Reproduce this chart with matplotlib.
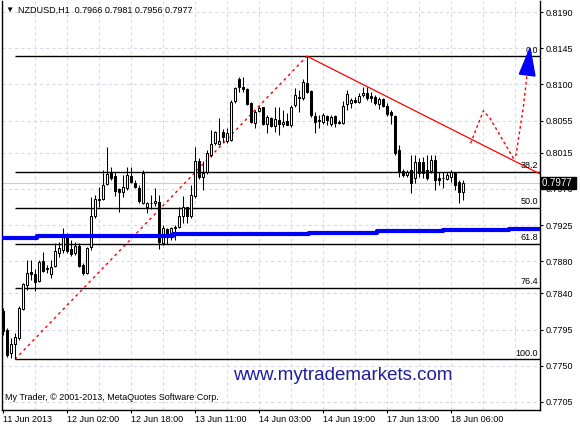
import matplotlib
matplotlib.use("Agg")
import matplotlib.pyplot as plt
import matplotlib.transforms as mtransforms
from matplotlib.patches import Polygon

plt.rcParams['font.family'] = ['Liberation Sans', 'DejaVu Sans']

# NZDUSD H1 candles, 11-18 Jun 2013
opens = [.7818, .7795, .7766, .7777, .7785, .7821, .7850, .7867, .7864, .7855,
         .7880, .7872, .7864, .7874, .7890, .7894, .7910, .7895, .7890, .7899,
         .7875, .7865, .7898, .7936, .7957, .7957, .7976, .7990, .7986, .7970,
         .7966, .7971, .7986, .7977, .7971, .7952, .7947, .7952, .7952, .7954,
         .7903, .7920, .7915, .7921, .7923, .7936, .7947, .7936, .7961, .8005,
         .7985, .7991, .8012, .8027, .8026, .8041, .8030, .8031, .8079, .8107,
         .8097, .8094, .8077, .8052, .8067, .8072, .8051, .8058, .8048, .8056,
         .8051, .8054, .8049, .8074, .8084, .8083, .8102, .8092, .8061, .8056,
         .8053, .8061, .8051, .8061, .8053, .8052, .8076, .8077, .8081, .8078,
         .8087, .8089, .8085, .8084, .8076, .8082, .8073, .8066, .8061, .8018,
         .7992, .7987, .7993, .7984, .8003, .8003, .7993, .7992, .8006, .7984,
         .7984, .7982, .7985, .7990, .7979, .7966]
highs = [.7822, .7797, .7785, .7791, .7824, .7853, .7882, .7882, .7870, .7882,
         .7892, .7875, .7882, .7903, .7904, .7921, .7915, .7906, .7904, .7903,
         .7878, .7898, .7960, .7962, .7972, .7993, .8022, .7997, .7991, .7971,
         .7987, .7997, .7997, .7981, .7975, .7993, .7954, .7962, .7971, .7962,
         .7925, .7921, .7923, .7925, .7947, .7961, .7947, .7975, .8022, .8008,
         .8005, .8018, .8043, .8042, .8058, .8044, .8046, .8081, .8097, .8109,
         .8109, .8095, .8078, .8068, .8073, .8072, .8062, .8059, .8072, .8072,
         .8068, .8064, .8074, .8095, .8093, .8107, .8135, .8093, .8066, .8062,
         .8064, .8062, .8062, .8062, .8056, .8079, .8093, .8083, .8084, .8089,
         .8097, .8097, .8090, .8087, .8084, .8083, .8077, .8068, .8062, .8025,
         .7995, .7993, .8012, .8012, .8008, .8010, .8012, .8012, .8012, .7991,
         .7991, .7991, .7993, .7990, .7981, .7981]
lows = [.7788, .7761, .7760, .7758, .7782, .7819, .7844, .7857, .7843, .7854,
        .7867, .7865, .7859, .7873, .7885, .7890, .7890, .7887, .7888, .7873,
        .7863, .7864, .7894, .7934, .7947, .7956, .7975, .7981, .7961, .7941,
        .7960, .7969, .7977, .7971, .7952, .7951, .7940, .7945, .7949, .7895,
        .7900, .7901, .7906, .7906, .7921, .7928, .7928, .7934, .7959, .7982,
        .7969, .7989, .8010, .8025, .8025, .8028, .8027, .8030, .8077, .8090,
        .8090, .8074, .8052, .8046, .8066, .8049, .8039, .8047, .8041, .8037,
        .8047, .8049, .8047, .8072, .8066, .8081, .8089, .8059, .8039, .8046,
        .8051, .8049, .8048, .8047, .8051, .8051, .8068, .8071, .8077, .8077,
        .8084, .8081, .8078, .8074, .8069, .8072, .8061, .8051, .8012, .7985,
        .7985, .7985, .7965, .7977, .7985, .7984, .7981, .7990, .7969, .7975,
        .7971, .7981, .7979, .7969, .7952, .7956]
closes = [.7793, .7763, .7777, .7786, .7822, .7852, .7865, .7864, .7854, .7879,
          .7868, .7870, .7873, .7893, .7897, .7910, .7893, .7889, .7899, .7874,
          .7865, .7897, .7936, .7957, .7956, .7975, .7989, .7984, .7967, .7966,
          .7972, .7987, .7979, .7972, .7955, .7990, .7952, .7953, .7955, .7904,
          .7921, .7913, .7921, .7922, .7936, .7947, .7936, .7962, .8005, .7985,
          .7990, .8015, .8026, .8041, .8030, .8034, .8039, .8078, .8095, .8097,
          .8094, .8076, .8053, .8066, .8071, .8051, .8059, .8048, .8057, .8051,
          .8053, .8049, .8072, .8087, .8083, .8103, .8090, .8062, .8053, .8054,
          .8062, .8056, .8059, .8052, .8052, .8073, .8088, .8081, .8078, .8085,
          .8089, .8083, .8083, .8077, .8082, .8073, .8063, .8062, .8015, .7991,
          .7987, .7991, .7977, .8003, .7990, .7990, .7984, .8006, .7981, .7981,
          .7983, .7987, .7991, .7975, .7966, .7977]

time_ticks = [0, 16, 32, 48, 64, 80, 96, 112]
time_labels = ['11 Jun 2013', '12 Jun 02:00', '12 Jun 18:00', '13 Jun 11:00',
               '14 Jun 03:00', '14 Jun 19:00', '17 Jun 13:00', '18 Jun 06:00']
price_ticks = [0.8190, 0.8145, 0.8100, 0.8055, 0.8015, 0.7970,
               0.7925, 0.7880, 0.7840, 0.7795, 0.7750, 0.7705]

# fibo from the low of bar 3 to the high of bar 76
fib_low_bar, fib_high_bar = 3, 76
fib_ratios = [0.0, 38.2, 50.0, 61.8, 76.4, 100.0]

# slow moving average (blue), stepwise
ma_bars = [-1, 8.5, 25.5, 42.5, 59.5, 76.5, 93.5, 110, 126.5, 136]
ma_vals = [0.79095, 0.79108, 0.79120, 0.79133, 0.79145, 0.79157, 0.79171, 0.79184, 0.79196, 0.79196]

# trend line from the top
trend_bars = [76, 134.3]
trend_vals = [0.8135, 0.79885]

# projected path + arrow
proj_bars = [116.9, 120.1, 121.75, 127.6, 128.25, 130.1, 130.9, 131.0]
proj_vals = [0.80267, 0.80672, 0.80578, 0.80080, 0.80121, 0.80722, 0.81075, 0.81120]
arrow_bars = [131.75, 129.1, 133.0]
arrow_vals = [0.81448, 0.81129, 0.81104]

last_price = 0.7977

fig = plt.figure(figsize=(5.8, 4.25), dpi=100)
ax = fig.add_axes([2/580, 15/425, 538/580, 409/425])
ax.set_xlim(-0.25, 134.25)
ax.set_ylim(0.76950, 0.82037)

grid_col = '#d6d6ee'
for b in range(8, 134, 8):
    ax.axvline(b, color=grid_col, lw=0.75, ls=(0, (3, 3)), zorder=0)
for p in price_ticks:
    ax.axhline(p, color=grid_col, lw=0.75, ls=(0, (3, 3)), zorder=0)
ax.axhline(last_price, color='#cacadc', lw=0.75, zorder=0)

# candles
n = len(opens)
bars = list(range(n))
ax.vlines(bars, lows, highs, color='black', lw=0.75, zorder=3)
for i in bars:
    o, c = opens[i], closes[i]
    fc = 'white' if c >= o else 'black'
    ax.bar(i, max(abs(c - o), 0.00001), bottom=min(o, c), width=0.5,
           facecolor=fc, edgecolor='black', lw=0.75, zorder=4)

# fibo
hi, lo = highs[fib_high_bar], lows[fib_low_bar]
for r in fib_ratios:
    lvl = hi - r / 100 * (hi - lo)
    ax.hlines(lvl, fib_low_bar, 134.25, color='black', lw=1, zorder=2)
    ax.text(133.75, lvl + 0.0002, '%.1f' % r, ha='right', va='bottom', fontsize=6.5, zorder=6)
ax.plot([fib_low_bar, fib_high_bar], [lo, hi], color='red', lw=1, ls=(0, (2, 2.5)), zorder=2)

ax.step(ma_bars, ma_vals, where='post', color='#0000ff', lw=3, zorder=5)
ax.plot(trend_bars, trend_vals, color='red', lw=0.9, zorder=5)
ax.plot(proj_bars, proj_vals, color='red', lw=1, ls=(0, (2, 2)), zorder=5)
ax.add_patch(Polygon(list(zip(arrow_bars, arrow_vals)), closed=True,
                     facecolor='#0000ff', edgecolor='#0000ff', zorder=6))

# axes
ax.spines['top'].set_visible(False)
for s in ['left', 'right', 'bottom']:
    ax.spines[s].set_linewidth(1)
ax.yaxis.tick_right()
ax.set_yticks(price_ticks)
ax.set_yticklabels(['%.4f' % p for p in price_ticks], fontsize=6.5)
ax.set_xticks(time_ticks)
ax.set_xticklabels(time_labels, fontsize=6.5, ha='left')
ax.tick_params(axis='both', length=2.5, width=0.8, pad=1.5, direction='out')
ax.tick_params(axis='x', pad=1)

trans = mtransforms.blended_transform_factory(ax.transAxes, ax.transData)
ax.text(1.004, last_price + 0.00005, '0.7977 ', transform=trans, color='white', fontsize=7,
        va='center', ha='left', clip_on=False, zorder=10,
        bbox=dict(facecolor='black', edgecolor='black', pad=1.0))

fig.text(5/580, 1 - 10/425, '\u25bc', fontsize=6, va='center', ha='left')
fig.text(18/580, 1 - 10/425, 'NZDUSD,H1  0.7966 0.7981 0.7956 0.7977', fontsize=6.5,
         va='center', ha='left')
fig.text(5/580, 1 - 398/425, 'My Trader, \u00a9 2001-2013, MetaQuotes Software Corp.',
         fontsize=6.5, va='center', ha='left')
fig.text(343/580, 1 - 376/425, 'www.mytrademarkets.com', fontsize=13.5, color='#1e1e9e',
         va='center', ha='center')

fig.savefig('out.png', dpi=100)
